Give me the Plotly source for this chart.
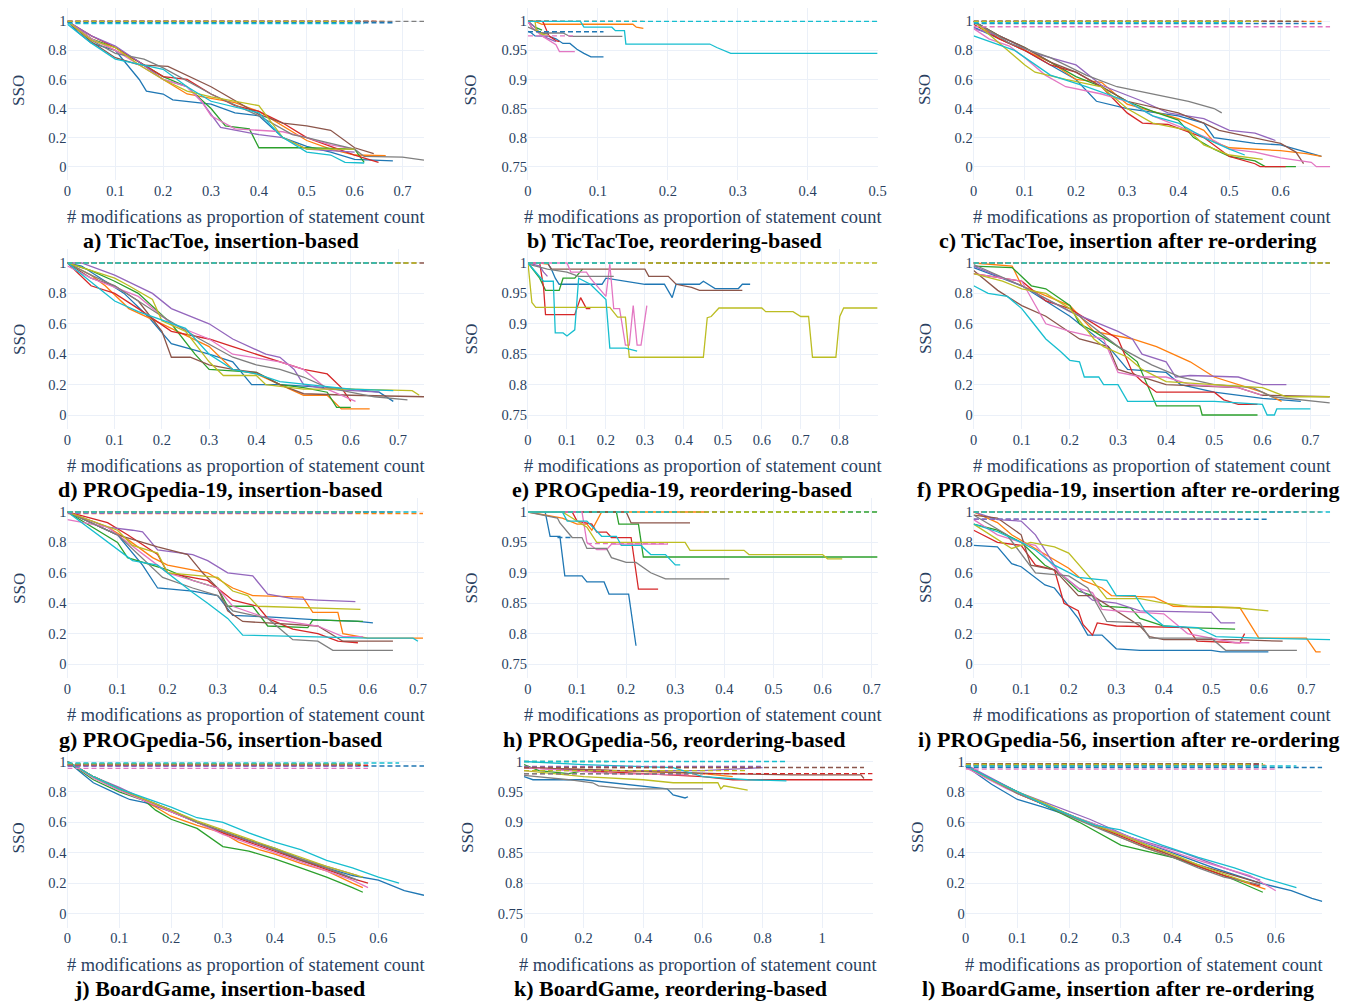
import plotly.graph_objects as go

# ---------------- DATA (series order: blue, orange, green, red, purple, brown, pink, gray, olive, cyan)
# a) TicTacToe, insertion-based
A_X = [[0,0.02,0.05,0.1,0.15,0.165,0.2,0.22,0.3,0.35,0.4,0.45,0.5,0.55,0.6,0.68],
       [0,0.05,0.1,0.15,0.2,0.25,0.3,0.35,0.4,0.45,0.5,0.55,0.6,0.665],
       [0,0.05,0.1,0.15,0.2,0.25,0.3,0.33,0.38,0.4,0.5,0.6,0.62],
       [0,0.05,0.1,0.15,0.2,0.25,0.3,0.35,0.4,0.45,0.5,0.55,0.6,0.65],
       [0,0.05,0.1,0.15,0.2,0.25,0.28,0.32,0.4,0.45,0.5,0.55,0.6],
       [0,0.05,0.1,0.15,0.21,0.3,0.4,0.45,0.5,0.55,0.6,0.64],
       [0,0.05,0.1,0.15,0.2,0.25,0.28,0.3,0.35,0.45,0.5,0.55,0.6],
       [0,0.05,0.1,0.16,0.2,0.3,0.4,0.47,0.5,0.6,0.62,0.7,0.745],
       [0,0.05,0.1,0.15,0.2,0.25,0.3,0.4,0.45,0.5,0.6],
       [0,0.05,0.1,0.2,0.25,0.3,0.4,0.45,0.5,0.55,0.58,0.62]]
A_Y = [[1,0.93,0.85,0.8,0.6,0.52,0.5,0.46,0.43,0.37,0.35,0.2,0.14,0.1,0.05,0.04],
       [1,0.88,0.8,0.72,0.6,0.5,0.47,0.44,0.38,0.28,0.18,0.12,0.08,0.075],
       [1,0.88,0.82,0.72,0.62,0.55,0.4,0.28,0.26,0.13,0.13,0.12,0.03],
       [1,0.9,0.82,0.72,0.62,0.6,0.5,0.42,0.38,0.3,0.2,0.14,0.08,0.03],
       [1,0.9,0.83,0.72,0.6,0.55,0.45,0.27,0.22,0.2,0.12,0.11,0.1],
       [1,0.86,0.75,0.7,0.69,0.55,0.36,0.3,0.28,0.25,0.13,0.09],
       [1,0.88,0.8,0.7,0.6,0.55,0.45,0.35,0.26,0.24,0.2,0.15,0.12],
       [1,0.87,0.78,0.74,0.68,0.5,0.35,0.22,0.2,0.12,0.07,0.066,0.045],
       [1,0.87,0.82,0.7,0.6,0.52,0.48,0.42,0.2,0.12,0.12],
       [0.98,0.85,0.74,0.67,0.55,0.45,0.37,0.2,0.1,0.08,0.03,0.025]]
A_DASH = [0.99,1,1,1,1,1,1,1,1,0.985]

# b) TicTacToe, reordering-based
B_X = [[0,0.005,0.01,0.03,0.04,0.05,0.06,0.07,0.08,0.09,0.108],
       [0,0.01,0.02,0.15,0.155,0.165],
       [0,0.01,0.02],
       [0,0.02,0.022,0.03,0.04,0.045],
       [0,0.01,0.02,0.03,0.04],
       [0,0.005,0.01,0.02,0.03],
       [0,0.005,0.02,0.04,0.045,0.067],
       [0,0.02,0.05,0.06,0.135],
       [0,0.01,0.012,0.02,0.03],
       [0,0.075,0.08,0.12,0.125,0.138,0.14,0.26,0.27,0.28,0.29,0.5]]
B_Y = [[0.983,0.98,0.975,0.974,0.97,0.962,0.962,0.952,0.945,0.939,0.939],
       [1,1,0.995,0.995,0.99,0.988],
       [1,0.99,0.985],
       [1,1,0.998,0.975,0.967,0.965],
       [1,0.99,0.975,0.97,0.965],
       [1,0.99,0.985,0.98,0.978],
       [1,0.99,0.975,0.96,0.948,0.948],
       [0.99,0.98,0.98,0.974,0.974],
       [1,1,0.985,0.978,0.975],
       [1,1,0.99,0.99,0.984,0.984,0.961,0.961,0.955,0.95,0.945,0.945]]
B_DASH = [0.982,1,1,1,1,1,0.975,1,1,1]

# c) TicTacToe, insertion after re-ordering
C_X = [[0,0.05,0.1,0.15,0.2,0.24,0.3,0.4,0.45,0.47,0.55,0.6,0.65,0.68],
       [0,0.05,0.1,0.15,0.2,0.25,0.3,0.4,0.45,0.47,0.5,0.6,0.65,0.68],
       [0,0.05,0.1,0.15,0.2,0.25,0.3,0.35,0.4,0.43,0.47,0.5,0.55,0.57,0.63],
       [0,0.05,0.1,0.15,0.2,0.25,0.3,0.33,0.38,0.45,0.5,0.55,0.56,0.61],
       [0,0.05,0.08,0.12,0.2,0.25,0.33,0.38,0.45,0.5,0.55,0.59],
       [0,0.05,0.1,0.15,0.2,0.25,0.3,0.4,0.45,0.48,0.55,0.6,0.63,0.645],
       [0,0.03,0.07,0.1,0.14,0.18,0.25,0.3,0.35,0.42,0.47,0.5,0.55,0.6,0.66,0.67,0.697],
       [0,0.07,0.15,0.22,0.28,0.35,0.42,0.47,0.485],
       [0,0.05,0.1,0.12,0.18,0.25,0.3,0.35,0.42,0.45,0.5,0.565],
       [0,0.08,0.15,0.22,0.3,0.35,0.4,0.45,0.5,0.53]]
C_Y = [[0.96,0.88,0.8,0.7,0.6,0.45,0.4,0.35,0.3,0.2,0.16,0.15,0.1,0.07],
       [1,0.88,0.8,0.72,0.6,0.58,0.43,0.33,0.25,0.17,0.13,0.11,0.09,0.07],
       [1,0.9,0.82,0.72,0.62,0.55,0.45,0.38,0.32,0.2,0.12,0.07,0.04,0,0],
       [0.98,0.88,0.8,0.7,0.65,0.55,0.37,0.3,0.29,0.2,0.07,0.02,0,0],
       [0.95,0.9,0.85,0.78,0.7,0.56,0.45,0.37,0.33,0.25,0.23,0.18],
       [1,0.9,0.82,0.72,0.65,0.55,0.45,0.37,0.3,0.25,0.2,0.16,0.1,0.02],
       [0.95,0.88,0.83,0.75,0.63,0.55,0.5,0.45,0.35,0.25,0.18,0.12,0.1,0.06,0.03,0,0],
       [1,0.85,0.75,0.63,0.55,0.5,0.45,0.4,0.37],
       [1,0.85,0.7,0.65,0.6,0.55,0.4,0.3,0.25,0.15,0.08,0.05],
       [0.9,0.8,0.63,0.55,0.45,0.35,0.3,0.2,0.12,0.08]]
C_DASH = [0.985,1,1,1,1,1,0.963,1,1,0.99]

# d) PROGpedia-19, insertion-based
D_X = [[0,0.03,0.08,0.12,0.17,0.22,0.3,0.35,0.39,0.45,0.6,0.66,0.69],
       [0,0.05,0.08,0.13,0.2,0.3,0.35,0.4,0.45,0.5,0.55,0.58,0.64],
       [0,0.05,0.1,0.15,0.22,0.27,0.3,0.4,0.45,0.5,0.55,0.57,0.6],
       [0,0.05,0.1,0.15,0.22,0.3,0.35,0.4,0.45,0.5,0.55,0.58,0.6],
       [0,0.03,0.1,0.18,0.22,0.3,0.35,0.42,0.45,0.48,0.5,0.55,0.66],
       [0,0.05,0.1,0.15,0.2,0.22,0.26,0.3,0.35,0.4,0.45,0.5,0.6,0.755],
       [0,0.05,0.15,0.22,0.3,0.35,0.45,0.5,0.55,0.61],
       [0,0.05,0.1,0.2,0.28,0.35,0.4,0.45,0.5,0.55,0.65,0.72],
       [0,0.05,0.1,0.13,0.18,0.2,0.25,0.3,0.33,0.4,0.42,0.5,0.6,0.73,0.745],
       [0,0.02,0.1,0.15,0.25,0.3,0.35,0.4,0.45,0.6,0.69]]
D_Y = [[1,0.98,0.88,0.8,0.65,0.47,0.4,0.35,0.2,0.2,0.17,0.15,0.09],
       [1,0.92,0.85,0.7,0.6,0.45,0.3,0.27,0.2,0.13,0.13,0.04,0.04],
       [1,0.95,0.88,0.8,0.6,0.4,0.3,0.28,0.2,0.18,0.15,0.05,0.05],
       [1,0.85,0.8,0.7,0.55,0.5,0.45,0.4,0.35,0.3,0.27,0.18,0.09],
       [1,1,0.92,0.8,0.7,0.6,0.5,0.4,0.38,0.3,0.2,0.17,0.15],
       [1,0.9,0.85,0.75,0.55,0.38,0.38,0.33,0.3,0.28,0.2,0.14,0.13,0.12],
       [0.98,0.9,0.78,0.6,0.5,0.4,0.35,0.3,0.17,0.09],
       [1,0.92,0.85,0.65,0.5,0.38,0.33,0.3,0.25,0.18,0.12,0.1],
       [1,0.95,0.9,0.85,0.76,0.62,0.55,0.35,0.26,0.26,0.2,0.17,0.17,0.16,0.13],
       [1,0.95,0.75,0.68,0.57,0.4,0.3,0.27,0.22,0.17,0.16]]
D_DASH = [1,1,1,1,1,1,1,1,1,1]

# e) PROGpedia-19, reordering-based
E_X = [[0,0.05,0.06,0.07,0.08,0.19,0.2,0.25,0.3,0.35,0.36,0.37,0.38,0.44,0.45,0.48,0.54,0.55,0.57],
       [0,0.03,0.05],
       [0,0.03,0.045,0.08,0.09,0.12,0.14],
       [0,0.03,0.04,0.045,0.12,0.135,0.15,0.16],
       [0,0.03,0.04,0.05],
       [0,0.05,0.06,0.3,0.31,0.36,0.38,0.42,0.44,0.55],
       [0,0.1,0.11,0.15,0.16,0.18,0.2,0.21,0.22,0.235,0.25,0.26,0.27,0.28,0.29,0.305],
       [0,0.05,0.1,0.13,0.22],
       [0,0.01,0.02,0.21,0.23,0.25,0.26,0.45,0.46,0.47,0.49,0.6,0.61,0.68,0.7,0.72,0.73,0.79,0.8,0.81,0.897],
       [0,0.04,0.065,0.07,0.09,0.1,0.12,0.13,0.16,0.19,0.2,0.21,0.25,0.28]]
E_Y = [[1,1,0.99,0.975,0.965,0.965,0.975,0.97,0.965,0.965,0.955,0.943,0.965,0.965,0.97,0.958,0.958,0.965,0.965],
       [1,1,0.998],
       [1,0.975,0.955,0.955,0.975,0.975,0.99],
       [1,1,0.96,0.915,0.915,0.943,0.925,0.925],
       [1,0.995,0.985,0.978],
       [1,1,0.99,0.99,0.978,0.978,0.965,0.96,0.955,0.955],
       [1,1,0.985,0.985,0.975,0.96,0.945,0.998,0.925,0.925,0.865,0.865,0.93,0.865,0.865,0.93],
       [0.998,0.99,0.985,0.978,0.978],
       [1,0.935,0.927,0.927,0.911,0.911,0.845,0.845,0.91,0.912,0.926,0.926,0.92,0.92,0.912,0.912,0.845,0.845,0.912,0.926,0.926],
       [1,0.97,0.97,0.885,0.885,0.88,0.89,0.975,0.965,0.945,0.94,0.86,0.86,0.855]]
E_DASH = [1,1,1,1,1,1,1,1,1,1]

# f) PROGpedia-19, insertion after re-ordering
F_X = [[0,0.1,0.2,0.28,0.32,0.4,0.43,0.5,0.6,0.68],
       [0,0.08,0.1,0.2,0.25,0.33,0.38,0.45,0.5,0.55,0.6,0.62,0.64],
       [0,0.08,0.12,0.15,0.2,0.22,0.25,0.3,0.34,0.36,0.38,0.47,0.475,0.59],
       [0,0.1,0.15,0.2,0.3,0.33,0.35,0.38,0.5,0.52,0.55,0.59],
       [0,0.1,0.2,0.3,0.33,0.35,0.4,0.42,0.45,0.55,0.6,0.65],
       [0,0.05,0.1,0.15,0.22,0.28,0.3,0.35,0.4,0.55,0.6,0.74],
       [0,0.1,0.15,0.2,0.27,0.3,0.35,0.4,0.45,0.55,0.6],
       [0,0.1,0.22,0.3,0.37,0.43,0.5,0.58,0.62,0.74],
       [0,0.06,0.1,0.15,0.2,0.25,0.27,0.32,0.35,0.4,0.5,0.6,0.65,0.74],
       [0,0.03,0.07,0.1,0.12,0.15,0.18,0.2,0.22,0.23,0.26,0.27,0.3,0.32,0.5,0.55,0.6,0.61,0.625,0.63,0.7]]
F_Y = [[0.97,0.85,0.65,0.45,0.3,0.28,0.2,0.15,0.11,0.09],
       [1,0.98,0.85,0.72,0.55,0.5,0.45,0.35,0.25,0.2,0.15,0.12,0.09],
       [0.98,0.97,0.85,0.83,0.72,0.6,0.55,0.45,0.35,0.2,0.06,0.06,0.0,0.0],
       [0.93,0.88,0.75,0.7,0.5,0.28,0.22,0.15,0.15,0.1,0.07,0.07],
       [0.98,0.85,0.68,0.55,0.5,0.4,0.35,0.25,0.26,0.25,0.2,0.2],
       [0.95,0.82,0.72,0.65,0.5,0.45,0.3,0.25,0.2,0.18,0.13,0.12],
       [0.93,0.88,0.6,0.55,0.5,0.28,0.25,0.25,0.2,0.18,0.13],
       [0.99,0.85,0.65,0.45,0.33,0.25,0.2,0.18,0.12,0.08],
       [0.93,0.88,0.83,0.8,0.7,0.5,0.45,0.38,0.3,0.22,0.2,0.18,0.12,0.12],
       [0.85,0.8,0.78,0.7,0.62,0.5,0.42,0.36,0.35,0.25,0.25,0.2,0.2,0.09,0.09,0.08,0.07,0.0,0.0,0.04,0.04]]
F_DASH = [1,1,1,1,1,1,1,1,1,1]

# g) PROGpedia-56, insertion-based
G_X = [[0,0.1,0.15,0.18,0.25,0.3,0.33,0.4,0.5,0.58,0.61],
       [0,0.08,0.12,0.17,0.2,0.28,0.33,0.37,0.47,0.49,0.54,0.55,0.6,0.71],
       [0,0.1,0.12,0.2,0.25,0.3,0.32,0.37,0.4,0.48,0.49,0.59],
       [0,0.08,0.12,0.18,0.2,0.28,0.33,0.38,0.4,0.45,0.5,0.54,0.58],
       [0,0.08,0.13,0.15,0.18,0.25,0.28,0.32,0.37,0.4,0.45,0.5,0.575],
       [0,0.1,0.18,0.24,0.27,0.3,0.32,0.35,0.4,0.5,0.55,0.65],
       [0,0.08,0.2,0.25,0.3,0.33,0.4,0.5,0.55,0.59],
       [0,0.1,0.19,0.25,0.3,0.33,0.4,0.45,0.5,0.53,0.65],
       [0,0.1,0.13,0.18,0.2,0.3,0.33,0.36,0.38,0.5,0.585],
       [0,0.06,0.1,0.13,0.18,0.25,0.28,0.32,0.35,0.5,0.6,0.69,0.7]]
G_Y = [[1,0.85,0.65,0.5,0.48,0.45,0.32,0.31,0.29,0.28,0.27],
       [1,0.9,0.82,0.7,0.65,0.6,0.5,0.45,0.44,0.34,0.34,0.2,0.17,0.17],
       [1,0.8,0.7,0.62,0.55,0.5,0.38,0.38,0.25,0.24,0.29,0.28],
       [1,0.93,0.85,0.72,0.6,0.55,0.42,0.38,0.3,0.23,0.2,0.15,0.14],
       [1,0.9,0.88,0.87,0.75,0.72,0.68,0.6,0.58,0.46,0.43,0.42,0.41],
       [1,0.85,0.77,0.72,0.6,0.5,0.35,0.28,0.27,0.25,0.15,0.15],
       [0.95,0.9,0.6,0.55,0.5,0.38,0.3,0.25,0.18,0.18],
       [1,0.85,0.57,0.5,0.45,0.35,0.3,0.16,0.15,0.09,0.09],
       [1,0.88,0.78,0.73,0.6,0.57,0.48,0.45,0.38,0.37,0.36],
       [1,0.85,0.75,0.68,0.65,0.47,0.4,0.3,0.19,0.18,0.17,0.17,0.15]]
G_DASH = [1,0.99,1,1,0.992,1,1,1,1,1]

# h) PROGpedia-56, reordering-based
H_X = [[0,0.035,0.045,0.065,0.075,0.11,0.12,0.155,0.165,0.205,0.22],
       [0,0.07,0.1,0.12,0.13,0.14,0.15,0.36],
       [0,0.18,0.185,0.225,0.235,0.712],
       [0,0.09,0.1,0.13,0.14,0.16,0.17,0.21,0.225,0.265],
       [0,0.03,0.05],
       [0,0.2,0.21,0.33],
       [0,0.11,0.12,0.14,0.16,0.17,0.285],
       [0,0.06,0.065,0.09,0.11,0.12,0.16,0.17,0.2,0.22,0.25,0.28,0.41],
       [0,0.07,0.09,0.12,0.14,0.32,0.33,0.44,0.45,0.6,0.61,0.64],
       [0,0.07,0.08,0.12,0.15,0.18,0.19,0.23,0.25,0.28,0.3,0.31]]
H_Y = [[1,1,0.96,0.96,0.895,0.895,0.885,0.885,0.865,0.865,0.78],
       [1,0.99,0.98,0.98,0.97,0.985,1,1],
       [1,1,0.98,0.98,0.926,0.926],
       [1,1,0.985,0.98,0.967,0.967,0.958,0.958,0.873,0.873],
       [1,1,1],
       [1,1,0.982,0.982],
       [1,1,0.95,0.938,0.938,0.947,0.947],
       [1,0.99,0.982,0.958,0.958,0.94,0.94,0.925,0.917,0.917,0.9,0.89,0.89],
       [1,1,0.99,0.975,0.95,0.95,0.937,0.937,0.93,0.93,0.923,0.923],
       [1,1,0.985,0.985,0.96,0.96,0.945,0.945,0.93,0.93,0.913,0.913]]
H_DASH = [1,1,1,1,1,1,1,1,1,1]
H_EXTRA_X = [[0.06,0.09],[0.12,0.285]]
H_EXTRA_Y = [[0.958,0.958],[0.948,0.948]]
H_EXTRA_C = [0,6]

# i) PROGpedia-56, insertion after re-ordering
I_X = [[0,0.05,0.08,0.1,0.15,0.17,0.19,0.22,0.24,0.27,0.3,0.35,0.5,0.52,0.62],
       [0,0.05,0.08,0.15,0.2,0.23,0.27,0.29,0.38,0.42,0.56,0.6,0.7,0.72,0.73],
       [0,0.05,0.1,0.15,0.18,0.22,0.25,0.27,0.33,0.35,0.4,0.45,0.55],
       [0,0.05,0.1,0.13,0.17,0.19,0.22,0.23,0.25,0.26,0.3,0.45,0.47,0.56,0.57],
       [0,0.05,0.1,0.13,0.16,0.18,0.22,0.25,0.3,0.35,0.5,0.52,0.55],
       [0,0.05,0.1,0.12,0.17,0.22,0.25,0.3,0.35,0.37,0.4,0.55,0.65],
       [0,0.05,0.1,0.13,0.18,0.22,0.25,0.27,0.3,0.4,0.45,0.5,0.55,0.58],
       [0,0.07,0.13,0.2,0.24,0.28,0.35,0.37,0.5,0.53,0.68],
       [0,0.05,0.08,0.12,0.17,0.2,0.23,0.25,0.28,0.35,0.4,0.45,0.55,0.62],
       [0,0.05,0.1,0.13,0.17,0.22,0.28,0.3,0.34,0.36,0.4,0.47,0.51,0.6,0.75]]
I_Y = [[0.78,0.77,0.66,0.64,0.52,0.5,0.42,0.3,0.19,0.19,0.1,0.09,0.09,0.08,0.08],
       [1,0.93,0.85,0.72,0.63,0.55,0.5,0.45,0.44,0.38,0.37,0.17,0.17,0.08,0.08],
       [0.92,0.88,0.8,0.65,0.6,0.48,0.45,0.38,0.37,0.3,0.25,0.24,0.23],
       [0.88,0.8,0.78,0.65,0.62,0.4,0.35,0.26,0.19,0.27,0.25,0.24,0.15,0.14,0.2],
       [1,0.95,0.94,0.85,0.7,0.6,0.5,0.42,0.4,0.35,0.34,0.27,0.27],
       [0.98,0.96,0.85,0.65,0.62,0.45,0.45,0.35,0.25,0.18,0.16,0.16,0.15],
       [0.95,0.85,0.8,0.78,0.6,0.5,0.47,0.36,0.35,0.33,0.2,0.17,0.14,0.14],
       [0.98,0.85,0.6,0.58,0.5,0.28,0.27,0.17,0.17,0.09,0.09],
       [0.92,0.82,0.76,0.8,0.77,0.73,0.62,0.55,0.43,0.43,0.4,0.38,0.37,0.35],
       [0.92,0.87,0.8,0.75,0.65,0.57,0.55,0.45,0.45,0.35,0.25,0.24,0.18,0.17,0.16]]
I_DASH = [0.952,1,1,1,0.952,1,1,1,1,1]

# j) BoardGame, insertion-based
J_X = [[0,0.05,0.1,0.12,0.15,0.2,0.25,0.3,0.35,0.4,0.45,0.5,0.55,0.6,0.65,0.688],
       [0,0.05,0.1,0.15,0.2,0.25,0.3,0.33,0.37,0.4,0.45,0.5,0.55,0.57],
       [0,0.05,0.1,0.15,0.17,0.2,0.25,0.3,0.35,0.4,0.45,0.5,0.55,0.57],
       [0,0.05,0.1,0.15,0.2,0.25,0.3,0.35,0.4,0.45,0.5,0.55,0.58],
       [0,0.05,0.1,0.15,0.2,0.25,0.3,0.35,0.4,0.45,0.5,0.56],
       [0,0.05,0.1,0.15,0.2,0.25,0.3,0.35,0.4,0.45,0.5,0.55],
       [0,0.05,0.1,0.15,0.2,0.25,0.3,0.35,0.4,0.45,0.5,0.55,0.58],
       [0,0.05,0.1,0.15,0.2,0.25,0.3,0.35,0.4,0.45,0.5,0.56],
       [0,0.05,0.1,0.15,0.2,0.25,0.3,0.35,0.4,0.45,0.5,0.57],
       [0,0.05,0.1,0.15,0.2,0.25,0.3,0.35,0.4,0.45,0.5,0.55,0.6,0.64]]
J_Y = [[1,0.86,0.78,0.75,0.73,0.67,0.6,0.54,0.48,0.43,0.36,0.3,0.25,0.22,0.15,0.12],
       [1,0.9,0.82,0.74,0.64,0.58,0.53,0.47,0.42,0.39,0.33,0.28,0.2,0.17],
       [1,0.88,0.8,0.74,0.68,0.62,0.56,0.44,0.41,0.36,0.3,0.24,0.17,0.14],
       [1,0.9,0.82,0.74,0.67,0.6,0.53,0.47,0.41,0.35,0.29,0.23,0.2],
       [1,0.9,0.83,0.75,0.68,0.6,0.54,0.48,0.42,0.36,0.31,0.25],
       [1,0.9,0.82,0.74,0.68,0.6,0.54,0.48,0.42,0.35,0.3,0.23],
       [1,0.89,0.81,0.74,0.67,0.6,0.52,0.46,0.4,0.34,0.28,0.22,0.17],
       [1,0.9,0.82,0.75,0.68,0.6,0.54,0.48,0.42,0.36,0.3,0.22],
       [1,0.9,0.82,0.75,0.68,0.61,0.55,0.49,0.43,0.37,0.31,0.24],
       [1,0.9,0.82,0.76,0.7,0.63,0.6,0.53,0.47,0.42,0.35,0.3,0.24,0.2]]
J_DASH = [0.97,0.975,0.98,0.975,0.97,0.98,0.955,0.985,0.985,0.99]

# k) BoardGame, reordering-based
K_X = [[0,0.03,0.2,0.3,0.4,0.48,0.5,0.54,0.55],
       [0,0.3,0.6,0.7],
       [0,0.05,0.15,0.2,0.28],
       [0,0.2,0.6,0.7,1.169],
       [0,0.3,0.6,0.8],
       [0,0.3,0.65,0.9,1.13,1.14],
       [0,0.3,0.55],
       [0,0.15,0.23,0.25,0.35,0.6],
       [0,0.2,0.4,0.5,0.65,0.66,0.67,0.75],
       [0,0.2,0.5,0.6,0.75,0.88]]
K_Y = [[0.975,0.97,0.97,0.965,0.96,0.955,0.945,0.94,0.942],
       [0.99,0.985,0.98,0.975],
       [0.995,0.985,0.98,0.985,0.982],
       [0.99,0.985,0.975,0.97,0.97],
       [0.99,0.985,0.985,0.99],
       [0.99,0.985,0.98,0.978,0.978,0.972],
       [0.99,0.98,0.978],
       [0.977,0.97,0.965,0.96,0.955,0.955],
       [0.985,0.975,0.97,0.965,0.965,0.955,0.96,0.953],
       [1,0.995,0.99,0.975,0.97,0.968]]
K_DASH = [0.98,0.99,1,0.98,0.992,0.99,0.985,0.98,0.985,1]

# l) BoardGame, insertion after re-ordering
L_X = [[0,0.05,0.1,0.15,0.24,0.32,0.4,0.48,0.57,0.63,0.67,0.69],
       [0,0.05,0.1,0.15,0.2,0.25,0.3,0.35,0.4,0.45,0.5,0.58],
       [0,0.1,0.17,0.22,0.3,0.4,0.5,0.575],
       [0,0.05,0.1,0.15,0.2,0.25,0.3,0.35,0.4,0.45,0.5,0.57],
       [0,0.1,0.24,0.32,0.42,0.5,0.57],
       [0,0.05,0.1,0.15,0.2,0.25,0.3,0.35,0.4,0.45,0.5,0.57],
       [0,0.08,0.2,0.32,0.45,0.55,0.6],
       [0,0.05,0.1,0.15,0.2,0.25,0.3,0.35,0.4,0.45,0.5,0.57],
       [0,0.05,0.1,0.15,0.2,0.25,0.3,0.35,0.4,0.45,0.5,0.55],
       [0,0.07,0.15,0.22,0.25,0.3,0.38,0.45,0.52,0.58,0.64]]
L_Y = [[0.97,0.85,0.75,0.7,0.6,0.5,0.4,0.3,0.2,0.15,0.1,0.08],
       [0.97,0.88,0.79,0.72,0.65,0.58,0.5,0.43,0.37,0.31,0.25,0.16],
       [0.97,0.8,0.68,0.6,0.45,0.37,0.25,0.14],
       [0.97,0.88,0.79,0.72,0.65,0.58,0.51,0.44,0.38,0.31,0.25,0.18],
       [0.98,0.8,0.62,0.5,0.4,0.3,0.22],
       [0.97,0.88,0.8,0.72,0.65,0.58,0.52,0.45,0.38,0.32,0.27,0.2],
       [0.96,0.82,0.65,0.5,0.35,0.25,0.15],
       [0.97,0.88,0.79,0.72,0.64,0.57,0.5,0.43,0.37,0.3,0.24,0.19],
       [0.97,0.88,0.8,0.73,0.65,0.58,0.52,0.45,0.39,0.32,0.26,0.2],
       [0.97,0.85,0.72,0.62,0.58,0.55,0.45,0.37,0.3,0.23,0.17]]
L_DASH = [0.96,0.975,0.985,0.98,0.975,0.985,0.95,0.97,0.98,0.97]

CAPTIONS = ["a) TicTacToe, insertion-based", "b) TicTacToe, reordering-based",
            "c) TicTacToe, insertion after re-ordering",
            "d) PROGpedia-19, insertion-based", "e) PROGpedia-19, reordering-based",
            "f) PROGpedia-19, insertion after re-ordering",
            "g) PROGpedia-56, insertion-based", "h) PROGpedia-56, reordering-based",
            "i) PROGpedia-56, insertion after re-ordering",
            "j) BoardGame, insertion-based", "k) BoardGame, reordering-based",
            "l) BoardGame, insertion after re-ordering"]
X_TITLE = "# modifications as proportion of statement count"
Y_TITLE = "SSO"

COLORS = ["#1f77b4", "#ff7f0e", "#2ca02c", "#d62728", "#9467bd",
          "#8c564b", "#e377c2", "#7f7f7f", "#bcbd22", "#17becf"]

# ---------------- LAYOUT (pixel geometry of each panel, in window pixels)
OFF = 8                      # default page body margin
W, H = 1358 - OFF, 1003 - OFF
ROW_TOP = [0, 249, 498, 747.5]
# (xs, ys, dash levels, xmax, reorder?, dtick, row, left, right, sso_x, caption_x)
PANELS = [
    (A_X, A_Y, A_DASH, 0.745, False, 0.1, 0, 64, 424, 15, 219),
    (B_X, B_Y, B_DASH, 0.5, True, 0.1, 0, 529, 882, 471, 677),
    (C_X, C_Y, C_DASH, 0.697, False, 0.1, 0, 979, 1339, 930, 1134),
    (D_X, D_Y, D_DASH, 0.755, False, 0.1, 1, 64, 424, 15, 219),
    (E_X, E_Y, E_DASH, 0.897, True, 0.1, 1, 529, 882, 471, 685),
    (F_X, F_Y, F_DASH, 0.741, False, 0.1, 1, 979, 1339, 930, 1135),
    (G_X, G_Y, G_DASH, 0.712, False, 0.1, 2, 64, 424, 15, 219),
    (H_X, H_Y, H_DASH, 0.712, True, 0.1, 2, 529, 882, 471, 676),
    (I_X, I_Y, I_DASH, 0.75, False, 0.1, 2, 979, 1339, 930, 1135),
    (J_X, J_Y, J_DASH, 0.688, False, 0.1, 3, 64, 424, 15, 218),
    (K_X, K_Y, K_DASH, 1.169, True, 0.2, 3, 525, 877, 468, 673),
    (L_X, L_Y, L_DASH, 0.69, False, 0.1, 3, 971, 1331, 922, 1125),
]
EXTRAS = {7: (H_EXTRA_X, H_EXTRA_Y, H_EXTRA_C)}

TICK_FONT = dict(family="Liberation Serif", size=14.5, color="#2a3f5f")
GRID = "#EBF0F8"
DASH = "5px,3px"

fig = go.Figure()
layout = dict(width=W, height=H, margin=dict(l=0, r=0, t=0, b=0),
              paper_bgcolor="white", plot_bgcolor="white", showlegend=False,
              annotations=[])

def px_x(px):
    return (px - OFF) / W

def px_y(px):
    return 1 - (px - OFF) / H

for n, (xs, ys, dl, xmax, reorder, dt, row, left, right, ssox, capx) in enumerate(PANELS):
    k = n + 1
    xa, ya = ("x%d" % k if k > 1 else "x"), ("y%d" % k if k > 1 else "y")
    for i in range(len(xs)):
        fig.add_trace(go.Scatter(x=xs[i], y=ys[i], mode="lines", xaxis=xa, yaxis=ya,
                                 line=dict(color=COLORS[i], width=1.3), hoverinfo="skip"))
    for i in range(len(xs)):
        fig.add_trace(go.Scatter(x=[0, xs[i][-1]], y=[dl[i], dl[i]], mode="lines",
                                 xaxis=xa, yaxis=ya, hoverinfo="skip",
                                 line=dict(color=COLORS[i], width=1.4, dash=DASH)))
    if n in EXTRAS:
        ex, ey, ec = EXTRAS[n]
        for j in range(len(ex)):
            fig.add_trace(go.Scatter(x=ex[j], y=ey[j], mode="lines", xaxis=xa, yaxis=ya,
                                     hoverinfo="skip",
                                     line=dict(color=COLORS[ec[j]], width=1.4, dash=DASH)))
    top = ROW_TOP[row]
    bottom = top + 180
    if reorder:
        yr, ydt, yt0 = [0.727, 1.023], 0.05, 0.75
    else:
        yr, ydt, yt0 = [-0.092, 1.092], 0.2, 0
    axkey = "xaxis%d" % k if k > 1 else "xaxis"
    aykey = "yaxis%d" % k if k > 1 else "yaxis"
    layout[axkey] = dict(domain=[px_x(left), px_x(right)], anchor=ya, range=[0, xmax],
                         dtick=dt, tick0=0, showgrid=True, gridcolor=GRID, gridwidth=1,
                         zeroline=True, zerolinecolor=GRID, zerolinewidth=1,
                         showline=False, ticks="", tickfont=TICK_FONT)
    layout[aykey] = dict(domain=[max(0, px_y(bottom)), min(1, px_y(top))], anchor=xa,
                         range=yr, dtick=ydt, tick0=yt0, showgrid=True, gridcolor=GRID,
                         gridwidth=1, zeroline=True, zerolinecolor=GRID, zerolinewidth=1,
                         showline=False, ticks="", tickfont=TICK_FONT)
    layout["annotations"].append(dict(
        text=Y_TITLE, xref="paper", yref="paper", x=px_x(ssox), y=px_y(top + 90),
        xanchor="center", yanchor="middle", textangle=-90, showarrow=False,
        font=dict(family="Liberation Serif", size=17, color="#2a3f5f")))
    layout["annotations"].append(dict(
        text=X_TITLE, xref="paper", yref="paper", x=px_x((left + right) / 2),
        y=px_y(top + 217), xanchor="center", yanchor="middle", showarrow=False,
        font=dict(family="Liberation Serif", size=18.4, color="#2a3f5f")))
    layout["annotations"].append(dict(
        text="<b>" + CAPTIONS[n] + "</b>", xref="paper", yref="paper", x=px_x(capx),
        y=px_y(top + 241), xanchor="center", yanchor="middle", showarrow=False,
        font=dict(family="Liberation Serif", size=22, color="black")))

fig.update_layout(**layout)
fig.write_html("out.html")
